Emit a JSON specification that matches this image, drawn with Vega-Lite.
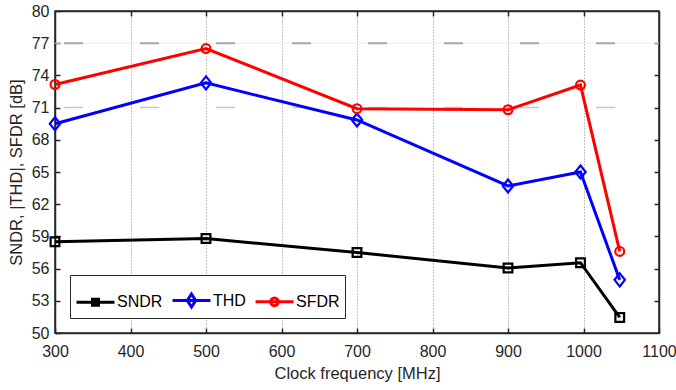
{
  "$schema": "https://vega.github.io/schema/vega-lite/v6.json",
  "width": 604,
  "height": 322,
  "autosize": {"type": "none"},
  "padding": {"left": 55, "top": 11, "right": 17, "bottom": 57},
  "background": "white",
  "config": {
    "view": {"stroke": "#262626", "strokeWidth": 1.5},
    "font": "Liberation Sans",
    "axis": {
      "labelFontSize": 16,
      "labelColor": "#262626",
      "labelFont": "Liberation Sans",
      "labelFlush": false,
      "titleFont": "Liberation Sans",
      "titleFontSize": 16.5,
      "titleFontWeight": "normal",
      "titleColor": "#262626",
      "tickColor": "#262626",
      "tickWidth": 1.5,
      "tickSize": -5,
      "domainColor": "#262626",
      "domainWidth": 1.5,
      "grid": false
    },
    "legend": {"labelFont": "Liberation Sans", "labelFontSize": 16, "labelColor": "#000000"}
  },
  "data": {
    "values": [
      {"freq": 300, "value": 58.5, "series": "SNDR"},
      {"freq": 500, "value": 58.8, "series": "SNDR"},
      {"freq": 700, "value": 57.5, "series": "SNDR"},
      {"freq": 900, "value": 56.05, "series": "SNDR"},
      {"freq": 996, "value": 56.55, "series": "SNDR"},
      {"freq": 1048, "value": 51.45, "series": "SNDR"},
      {"freq": 300, "value": 69.5, "series": "THD"},
      {"freq": 500, "value": 73.3, "series": "THD"},
      {"freq": 700, "value": 69.85, "series": "THD"},
      {"freq": 900, "value": 63.7, "series": "THD"},
      {"freq": 996, "value": 65.0, "series": "THD"},
      {"freq": 1048, "value": 54.95, "series": "THD"},
      {"freq": 300, "value": 73.15, "series": "SFDR"},
      {"freq": 500, "value": 76.5, "series": "SFDR"},
      {"freq": 700, "value": 70.9, "series": "SFDR"},
      {"freq": 900, "value": 70.8, "series": "SFDR"},
      {"freq": 996, "value": 73.1, "series": "SFDR"},
      {"freq": 1048, "value": 57.6, "series": "SFDR"}
    ]
  },
  "layer": [
    {
      "data": {"values": [{}]},
      "mark": {"type": "rule", "color": "#ececec", "strokeWidth": 1},
      "encoding": {"y": {"datum": 77, "type": "quantitative", "axis": null}}
    },
    {
      "data": {"values": [{}]},
      "mark": {"type": "rule", "color": "#a8a8a8", "strokeWidth": 2, "strokeDash": [19, 57], "strokeDashOffset": 32},
      "encoding": {"y": {"datum": 77, "type": "quantitative", "axis": null}}
    },
    {
      "data": {"values": [{}]},
      "mark": {"type": "rule", "color": "#c8c8c8", "strokeWidth": 1.5, "strokeDash": [19, 57], "strokeDashOffset": 32},
      "encoding": {"y": {"datum": 71, "type": "quantitative", "axis": null}}
    },
    {
      "mark": {"type": "line", "strokeWidth": 3},
      "encoding": {
        "x": {
          "field": "freq", "type": "quantitative",
          "scale": {"domain": [300, 1100], "nice": false, "zero": false},
          "axis": {"orient": "bottom", "values": [300, 400, 500, 600, 700, 800, 900, 1000, 1100], "format": "d", "title": "Clock frequency [MHz]", "labelPadding": 15, "titlePadding": 6}
        },
        "y": {
          "field": "value", "type": "quantitative",
          "scale": {"domain": [50, 80], "nice": false, "zero": false},
          "axis": {"orient": "left", "values": [50, 53, 56, 59, 62, 65, 68, 71, 74, 77, 80], "title": "SNDR, |THD|, SFDR [dB]", "labelPadding": 11, "titlePadding": 7}
        },
        "color": {
          "field": "series", "type": "nominal",
          "scale": {"domain": ["SNDR", "THD", "SFDR"], "range": ["#000000", "#0000ff", "#ff0000"]},
          "legend": {
            "orient": "bottom-left", "direction": "horizontal", "title": null, "offset": 15,
            "strokeColor": "#262626", "fillColor": "white", "padding": 5,
            "symbolSize": 1444, "symbolStrokeWidth": 3, "symbolFillColor": "transparent", "symbolType": "circle",
            "labelOffset": 1, "columnPadding": 3,
            "encode": {"symbols": {"update": {"shape": {"signal": "datum.value === 'SNDR' ? 'M-1,0H1M-0.16,-0.16H0.16V0.16H-0.16Z' : datum.value === 'THD' ? 'M-1,0H1M0,-0.34L0.22,0L0,0.34L-0.22,0Z' : 'M-1,0H1M0.2,0A0.2,0.2 0 1,1 -0.2,0A0.2,0.2 0 1,1 0.2,0Z'"}}}}
          }
        }
      }
    },
    {
      "transform": [{"filter": "datum.series === 'SNDR'"}],
      "mark": {"type": "point", "filled": false, "strokeWidth": 2.2, "opacity": 1, "shape": "square", "size": 76, "color": "#000000"},
      "encoding": {
        "x": {
          "field": "freq", "type": "quantitative",
          "axis": {"orient": "top", "labels": false, "title": null, "values": [400, 500, 600, 700, 800, 900, 1000], "grid": true, "gridColor": "#8a8a8a", "gridDash": [1, 2], "gridWidth": 1}
        },
        "y": {
          "field": "value", "type": "quantitative",
          "axis": {"orient": "right", "labels": false, "title": null, "values": [53, 56, 59, 62, 65, 68, 71, 74, 77]}
        }
      }
    },
    {
      "transform": [{"filter": "datum.series === 'THD'"}],
      "mark": {"type": "point", "filled": false, "strokeWidth": 2.2, "opacity": 1, "shape": "M0,-1L0.8,0L0,1L-0.8,0Z", "size": 169, "color": "#0000ff"},
      "encoding": {
        "x": {"field": "freq", "type": "quantitative", "axis": null},
        "y": {"field": "value", "type": "quantitative", "axis": null}
      }
    },
    {
      "transform": [{"filter": "datum.series === 'SFDR'"}],
      "mark": {"type": "point", "filled": false, "strokeWidth": 2.2, "opacity": 1, "shape": "circle", "size": 78, "color": "#ff0000"},
      "encoding": {
        "x": {"field": "freq", "type": "quantitative", "axis": null},
        "y": {"field": "value", "type": "quantitative", "axis": null}
      }
    }
  ],
  "resolve": {"axis": {"x": "independent", "y": "independent"}}
}
